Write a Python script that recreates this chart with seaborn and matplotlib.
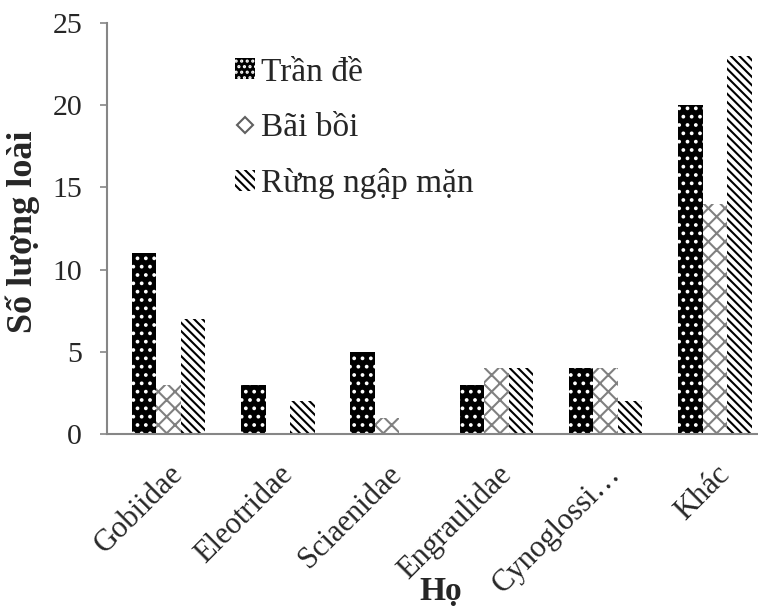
import matplotlib
matplotlib.use("Agg")
import matplotlib.pyplot as plt
import seaborn as sns
import pandas as pd
from matplotlib.patches import Patch
from matplotlib.lines import Line2D

# Data
families = ["Gobiidae", "Eleotridae", "Sciaenidae", "Engraulidae", "Cynoglossi…", "Khác"]
series_names = ["Trần đề", "Bãi bồi", "Rừng ngập mặn"]
tran_de = [11, 3, 5, 3, 4, 20]
bai_boi = [3, 0, 1, 4, 4, 14]
rung_ngap_man = [7, 2, 0, 4, 2, 23]

rows = []
for name, vals in zip(series_names, [tran_de, bai_boi, rung_ngap_man]):
    for fam, v in zip(families, vals):
        rows.append({"Họ": fam, "Series": name, "Value": v})
df = pd.DataFrame(rows)

sns.set_style("white")
plt.rcParams['font.family'] = ['Liberation Serif', 'DejaVu Serif']
plt.rcParams['hatch.linewidth'] = 1.5

fig = plt.figure(figsize=(7.58, 6.10), dpi=100)
ax = fig.add_axes([107 / 758, (610 - 434) / 610, 651 / 758, 411 / 610])

sns.barplot(data=df, x="Họ", y="Value", hue="Series", hue_order=series_names,
            order=families, width=0.673, gap=0, legend=False, ax=ax)

styles = [
    dict(face="black", edge="white", hatch=".."),
    dict(face="white", edge="#808080", hatch="xx"),
    dict(face="white", edge="black", hatch="\\\\\\\\"),
]
for cont, st in zip(ax.containers, styles):
    for bar in cont:
        bar.set_facecolor(st["face"])
        bar.set_edgecolor(st["edge"])
        bar.set_hatch(st["hatch"])
        bar.set_linewidth(0)

ax.set_ylim(0, 25)
ax.set_yticks([0, 5, 10, 15, 20, 25])
ax.set_xlim(-0.565, 5.396)
for s in ["top", "right"]:
    ax.spines[s].set_visible(False)
for s in ["left", "bottom"]:
    ax.spines[s].set_color("#868686")
    ax.spines[s].set_linewidth(1.5)

ax.tick_params(axis="y", which="both", left=True, length=5, color="#868686",
               width=1.2, labelsize=21.5, pad=13)
ax.tick_params(axis="x", bottom=False, labelsize=22, pad=15)
plt.setp(ax.get_xticklabels(), rotation=45, ha="right", rotation_mode="anchor")

ax.set_ylabel("Số lượng loài", fontsize=26, fontweight="bold")
ax.yaxis.set_label_coords(-0.103, 0.491)
ax.set_xlabel("Họ", fontsize=24, fontweight="bold")
ax.xaxis.set_label_coords(0.512, -0.345)

handles = [
    Patch(facecolor="black", edgecolor="white", hatch="...", linewidth=0),
    Line2D([], [], linestyle="none", marker="D", markersize=8, markerfacecolor="white",
           markeredgecolor="#606060", markeredgewidth=1.5),
    Patch(facecolor="white", edgecolor="black", hatch="\\\\\\\\", linewidth=0),
]
leg = ax.legend(handles, series_names, loc="upper left", bbox_to_anchor=(0.15, 0.99),
                frameon=False, fontsize=24, handlelength=0.6, handleheight=0.6,
                handletextpad=0.2, labelspacing=0.75)

fig.savefig("out.png", dpi=100)
